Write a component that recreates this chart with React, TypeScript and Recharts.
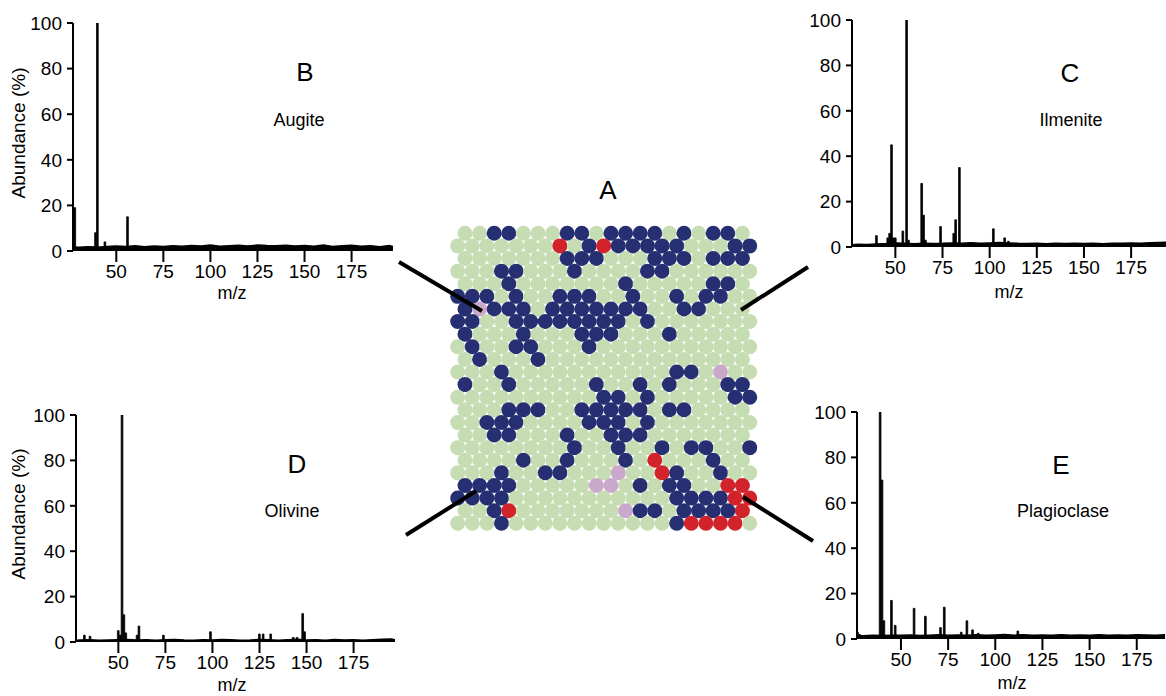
import React from "react";
import {
  ComposedChart,
  Area,
  Bar,
  XAxis,
  YAxis,
  ScatterChart,
  Scatter,
} from "recharts";

const FONT = "'Liberation Sans', Arial, Helvetica, sans-serif";

const mzTicks = [50, 75, 100, 125, 150, 175];
const abundanceTicks = [0, 20, 40, 60, 80, 100];

// [m/z, abundance %]
const augitePeaks = [
  [27, 18], [28, 19], [39, 8], [40, 100], [44, 4], [56, 15],
];
const augiteBase = [
  [27, 1.8], [30, 1.6], [35, 1.9], [40, 1.7], [45, 2.0], [50, 2.2], [55, 2.0],
  [60, 2.3], [65, 1.9], [70, 2.2], [75, 2.0], [80, 2.3], [85, 2.1], [90, 2.4],
  [95, 2.2], [100, 2.6], [105, 2.1], [110, 2.3], [115, 2.5], [120, 2.2],
  [125, 2.6], [130, 2.4], [135, 2.3], [140, 2.5], [145, 2.2], [150, 2.4],
  [155, 2.1], [160, 2.6], [165, 2.0], [170, 2.3], [175, 2.5], [180, 2.1],
  [185, 2.3], [190, 1.9], [195, 2.4], [197, 2.0],
];

const ilmenitePeaks = [
  [40, 5], [46, 4], [47, 6], [48, 45], [49, 4], [50, 4], [54, 7], [56, 100],
  [57, 3], [64, 28], [65, 14], [66, 3], [74, 9], [81, 6], [82, 12], [84, 35],
  [102, 8], [108, 4], [110, 2.5],
];
const ilmeniteBase = [
  [27, 1.0], [30, 1.2], [35, 1.1], [40, 1.3], [45, 1.5], [50, 1.8], [55, 1.6],
  [60, 1.4], [65, 1.7], [70, 1.5], [75, 1.6], [80, 1.8], [85, 1.7], [90, 1.9],
  [95, 1.6], [100, 1.8], [105, 2.0], [110, 1.8], [115, 1.6], [120, 1.5],
  [125, 1.7], [130, 1.4], [135, 1.6], [140, 1.5], [145, 1.7], [150, 1.5],
  [155, 1.6], [160, 1.4], [165, 1.7], [170, 1.6], [175, 1.8], [180, 1.7],
  [185, 1.9], [190, 2.0], [194, 2.1],
];

const olivinePeaks = [
  [32, 3], [35, 2.5], [50, 5], [51, 3], [52, 100], [53, 12], [54, 4], [60, 3],
  [61, 7], [74, 3], [99, 4.5], [125, 3.5], [127, 3.5], [131, 3.5], [143, 2],
  [145, 2], [148, 12.5], [149, 4.5],
];
const olivineBase = [
  [27, 0.8], [30, 0.9], [35, 1.0], [40, 0.8], [45, 0.9], [50, 1.0], [55, 1.1],
  [60, 0.9], [65, 1.0], [70, 0.8], [75, 1.0], [80, 1.1], [85, 0.9], [90, 0.8],
  [95, 1.0], [100, 0.9], [105, 1.1], [110, 1.0], [115, 0.8], [120, 0.9],
  [125, 1.1], [130, 1.0], [135, 0.8], [140, 1.0], [145, 1.2], [150, 0.9],
  [155, 1.0], [160, 0.8], [165, 1.1], [170, 0.9], [175, 1.0], [180, 0.8],
  [185, 1.0], [190, 1.2], [195, 1.3], [197, 1.0],
];

const plagioclasePeaks = [
  [27, 3], [28, 2], [39, 100], [40, 70], [41, 8], [45, 17], [47, 6], [57, 13.5],
  [63, 10], [71, 5], [73, 14], [82, 3], [85, 8], [88, 4], [91, 2.5], [112, 3.5],
];
const plagioclaseBase = [
  [27, 1.5], [30, 1.4], [35, 1.6], [40, 1.5], [45, 1.7], [50, 1.6], [55, 1.8],
  [60, 1.5], [65, 1.7], [70, 1.9], [75, 1.6], [80, 1.8], [85, 1.7], [90, 1.9],
  [95, 1.6], [100, 1.8], [105, 2.0], [110, 1.7], [115, 1.9], [120, 1.6],
  [125, 1.8], [130, 1.7], [135, 1.9], [140, 1.6], [145, 1.8], [150, 1.7],
  [155, 1.9], [160, 1.6], [165, 1.8], [170, 1.7], [175, 1.9], [180, 1.8],
  [185, 1.7], [190, 1.9],
];

// SOM map, top row first. g = background, n = augite cluster, r = red, p = pink
const somRows = [
  "ggnngggnngnnnngngnng",
  "gggggggrgnrnnnnngggnn",
  "gggggggnnngggnnngnnn",
  "gggnngggnggggnngggggg",
  "gggngggggggngggggnng",
  "nnngnggnnnggnggngnngg",
  "npnnngnnnnnnnggnnggg",
  "nnggnnnnnnnngnggggggg",
  "ngggngggnnngggnggggg",
  "gnggnngggnggggggggggg",
  "gngggngggggggggggggg",
  "gggngggggggggggnngpgg",
  "nggngggggnggngngggnn",
  "ggggggggggnngngggggnn",
  "gggnnnggnnnnngnngggg",
  "ggnnnggggnnngnggggggg",
  "ggnngggnggnnnggggggg",
  "ggggggggnggnggngnnggn",
  "ggggnggngggngrgggngg",
  "gggnggnngggpggrnggngg",
  "nnnngggggppgngnnggrr",
  "nnnngggggggggggnnnnrr",
  "ggnrgggggggpnngnnnnr",
  "gggngggggggggggnrrrrg",
];

const somColors: Record<string, string> = {
  g: "#c6dcb2",
  n: "#262f72",
  r: "#d2232a",
  p: "#c9a8cc",
};

const somCells = somRows.flatMap((row, r) =>
  row.split("").map((kind, c) => ({
    x: c + (r % 2 === 0 ? 0.5 : 0),
    y: r,
    kind,
  }))
);

function buildSpectrum(base: number[][], peaks: number[][]) {
  const rows = new Map<number, any>();
  base.forEach(([mz, v]) => rows.set(mz, { mz, base: v }));
  peaks.forEach(([mz, v]) =>
    rows.set(mz, { ...(rows.get(mz) || { mz }), peak: v })
  );
  return Array.from(rows.values()).sort((a, b) => a.mz - b.mz);
}

const tickStyle = { fill: "#000", fontSize: 19, fontFamily: FONT };

function Spectrum({ left, top, width, height, margin, domain, base, peaks }: any) {
  const data = buildSpectrum(base, peaks);
  return (
    <div style={{ position: "absolute", left, top }}>
      <ComposedChart width={width} height={height} data={data} margin={margin}>
        <XAxis
          dataKey="mz"
          type="number"
          domain={domain}
          allowDataOverflow
          ticks={mzTicks}
          interval={0}
          height={50}
          axisLine={false}
          tickSize={11}
          tickMargin={3}
          tickLine={{ stroke: "#000", strokeWidth: 2 }}
          tick={tickStyle}
        />
        <YAxis
          type="number"
          domain={[0, 100]}
          allowDataOverflow
          ticks={abundanceTicks}
          interval={0}
          width={60}
          axisLine={{ stroke: "#000", strokeWidth: 2 }}
          tickSize={6}
          tickMargin={5}
          tickLine={{ stroke: "#000", strokeWidth: 2 }}
          tick={tickStyle}
        />
        <Area
          dataKey="base"
          type="linear"
          connectNulls
          fill="#000"
          fillOpacity={1}
          stroke="#000"
          strokeWidth={1.5}
          dot={false}
          activeDot={false}
          isAnimationActive={false}
        />
        <Bar
          dataKey="peak"
          fill="#000"
          stroke="#000"
          strokeWidth={0.8}
          barSize={2}
          isAnimationActive={false}
        />
      </ComposedChart>
    </div>
  );
}

function SomMap() {
  return (
    <div style={{ position: "absolute", left: 440, top: 215 }}>
      <ScatterChart
        width={330}
        height={330}
        margin={{ top: 18.3, right: 20.3, bottom: 21.7, left: 17.7 }}
      >
        <XAxis dataKey="x" type="number" domain={[0, 20]} hide height={0} />
        <YAxis dataKey="y" type="number" domain={[0, 23]} reversed hide width={0} />
        <Scatter
          data={somCells}
          isAnimationActive={false}
          shape={(p: any) => (
            <circle cx={p.cx} cy={p.cy} r={7.5} fill={somColors[p.payload.kind]} />
          )}
        />
      </ScatterChart>
    </div>
  );
}

export default function App() {
  return (
    <div
      style={{
        position: "absolute",
        left: 0,
        top: 0,
        width: 1166,
        height: 696,
        background: "#fff",
        overflow: "hidden",
        fontFamily: FONT,
      }}
    >
      <Spectrum
        left={0}
        top={0}
        width={400}
        height={310}
        margin={{ top: 23, right: 7, bottom: 9, left: 13 }}
        domain={[27, 197]}
        base={augiteBase}
        peaks={augitePeaks}
      />
      <Spectrum
        left={770}
        top={0}
        width={396}
        height={310}
        margin={{ top: 20, right: 0, bottom: 13, left: 22 }}
        domain={[27, 193.5]}
        base={ilmeniteBase}
        peaks={ilmenitePeaks}
      />
      <Spectrum
        left={0}
        top={390}
        width={400}
        height={306}
        margin={{ top: 25, right: 5, bottom: 4, left: 16 }}
        domain={[27.5, 197]}
        base={olivineBase}
        peaks={olivinePeaks}
      />
      <Spectrum
        left={770}
        top={390}
        width={396}
        height={306}
        margin={{ top: 22, right: 0, bottom: 7, left: 27 }}
        domain={[26.7, 190.5]}
        base={plagioclaseBase}
        peaks={plagioclasePeaks}
      />
      <SomMap />
      <svg
        width={1166}
        height={696}
        style={{ position: "absolute", left: 0, top: 0, pointerEvents: "none" }}
        fontFamily={FONT}
        fill="#000"
      >
        <g stroke="#000" strokeWidth={4} strokeLinecap="butt">
          <line x1={399} y1={262} x2={482} y2={311} />
          <line x1={808} y1={267} x2={741} y2={310} />
          <line x1={406} y1={535} x2={476} y2={491} />
          <line x1={743} y1={497} x2={813} y2={541} />
        </g>
        <text x={608} y={199} fontSize={26} textAnchor="middle">A</text>

        <text transform="translate(25,133) rotate(-90)" fontSize={19} textAnchor="middle">
          Abundance (%)
        </text>
        <text transform="translate(25,514) rotate(-90)" fontSize={19} textAnchor="middle">
          Abundance (%)
        </text>

        <text x={232} y={299} fontSize={18} textAnchor="middle">m/z</text>
        <text x={1009} y={298} fontSize={18} textAnchor="middle">m/z</text>
        <text x={232} y={691} fontSize={18} textAnchor="middle">m/z</text>
        <text x={1012} y={689} fontSize={18} textAnchor="middle">m/z</text>

        <text x={305} y={81} fontSize={26} textAnchor="middle">B</text>
        <text x={299} y={126} fontSize={18} textAnchor="middle">Augite</text>
        <text x={1070} y={82} fontSize={26} textAnchor="middle">C</text>
        <text x={1071} y={126} fontSize={18} textAnchor="middle">Ilmenite</text>
        <text x={297} y={473} fontSize={26} textAnchor="middle">D</text>
        <text x={292} y={517} fontSize={18} textAnchor="middle">Olivine</text>
        <text x={1061} y={474} fontSize={26} textAnchor="middle">E</text>
        <text x={1063} y={517} fontSize={18} textAnchor="middle">Plagioclase</text>
      </svg>
    </div>
  );
}
